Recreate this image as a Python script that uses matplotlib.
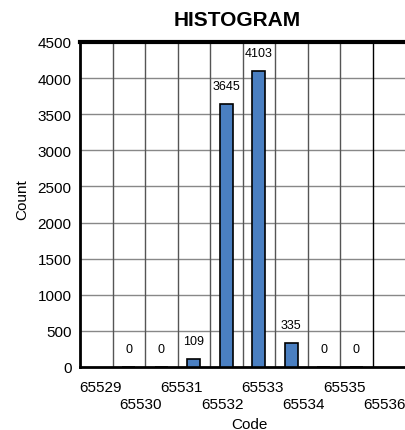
import matplotlib
matplotlib.use("Agg")
import matplotlib.pyplot as plt

plt.rcParams['font.family'] = ['Liberation Sans', 'DejaVu Sans']

codes = ["65529", "65530", "65531", "65532", "65533", "65534", "65535", "65536"]
counts = [0, 0, 109, 3645, 4103, 335, 0, 0]
y_ticks = [0, 500, 1000, 1500, 2000, 2500, 3000, 3500, 4000, 4500]

n_cells = len(counts) + 2
fig = plt.figure(figsize=(4.05, 4.31), dpi=100)
ax = fig.add_axes([80/405, 63/431, 325/405, 325/431])

bar_x = [i + 1.5 for i in range(len(counts))]
ax.bar(bar_x, counts, width=0.4, color='#4a7fc1', edgecolor='black', linewidth=1.2, zorder=3)
for x, c in zip(bar_x, counts):
    ax.annotate(str(c), xy=(x, c), xytext=(0, 18), textcoords='offset pixels',
                ha='center', va='center', fontsize=9, zorder=4)

ax.set_xlim(0, n_cells)
ax.set_ylim(0, 4500)
ax.set_yticks(y_ticks)
ax.tick_params(axis='y', length=0, labelsize=11, pad=6)
ax.set_xticks([])

for y in y_ticks[1:-1]:
    ax.axhline(y, color='#888888', linewidth=1, zorder=1)
for k in range(1, n_cells):
    ax.axvline(k, color='black' if k == n_cells - 1 else '#555555', linewidth=1, zorder=1)

slot = n_cells / len(codes)
for i, code in enumerate(codes):
    off = -20 if i % 2 == 0 else -37
    ax.annotate(code, xy=((i + 0.5) * slot, 0), xycoords=('data', 'axes fraction'),
                xytext=(0, off), textcoords='offset pixels', ha='center', va='center',
                fontsize=11, annotation_clip=False)

for s in ['left', 'bottom']:
    ax.spines[s].set_linewidth(2)
ax.spines['top'].set_linewidth(3)
ax.spines['right'].set_visible(False)

fig.text(249/405, 1 - 425/431, "Code", ha='center', va='center', fontsize=11)
fig.text(22/405, 1 - 200/431, "Count", ha='center', va='center', fontsize=11, rotation=90)
fig.text(237/405, 1 - 20/431, "HISTOGRAM", ha='center', va='center', fontsize=15, fontweight='bold')

fig.savefig("out.png", dpi=100)
